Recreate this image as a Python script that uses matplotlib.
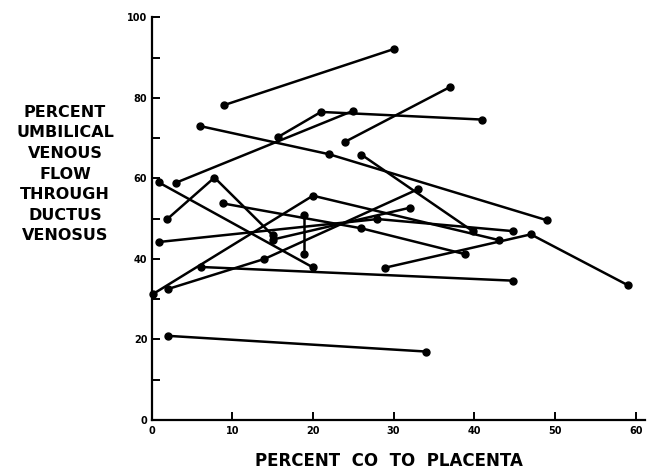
import numpy as np
import matplotlib
matplotlib.use('Agg')
import matplotlib.pyplot as plt

#percent of cardiac output to placenta, one list per fetus
co_placenta = [
  [9, 30],
  [6, 22, 49],
  [3, 25],
  [15.7, 21, 41],
  [24, 37],
  [26, 39.8],
  [0.9, 20],
  [1.9, 7.8, 15],
  [8.8, 26, 38.8],
  [0.2, 20, 43],
  [2, 14, 33],
  [0.9, 28, 44.8],
  [6.1, 44.8],
  [2, 34],
  [18.9, 18.9],
  [28.9, 47, 59],
  [15, 32],
]

#percent umbilical venous flow through ductus venosus
dv_flow = [
  [78.2, 92.1],
  [73, 66, 49.6],
  [58.9, 76.8],
  [70.3, 76.5, 74.6],
  [69.1, 82.7],
  [65.9, 46.9],
  [59, 37.9],
  [49.8, 60.2, 45.9],
  [53.8, 47.6, 41.2],
  [31.3, 55.7, 44.7],
  [32.5, 40, 57.3],
  [44.2, 49.9, 46.9],
  [38, 34.6],
  [20.9, 17],
  [50.8, 41.1],
  [37.8, 46.1, 33.5],
  [44.8, 52.7],
]

x_ticks = [10, 20, 30, 40, 50, 60]
y_ticks = [0, 10, 20, 30, 40, 50, 60, 70, 80, 90, 100]
y_labels = ['0', '', '20', '', '40', '', '60', '', '80', '', '100']

fig = plt.figure(figsize=(6.48, 4.69), dpi=100)
ax = fig.add_axes([0.2338, 0.1045, 0.7622, 0.8586])

for xs, ys in zip(co_placenta, dv_flow):
  ax.plot(xs, ys, color='black', lw=1.8, marker='o', ms=5, clip_on=False)

ax.set_xlim(0, 61.2)
ax.set_ylim(0, 100)
ax.spines['top'].set_visible(False)
ax.spines['right'].set_visible(False)
ax.spines['left'].set_linewidth(1.6)
ax.spines['bottom'].set_linewidth(1.6)

ax.set_xticks(x_ticks)
ax.set_xticklabels([])
ax.set_yticks(y_ticks)
ax.set_yticklabels(y_labels, fontsize=7, fontweight='bold')
ax.tick_params(axis='x', direction='in', length=6, width=1.4)
ax.tick_params(axis='y', direction='in', length=6, width=1.4, pad=3)

#x tick labels sit under the ticks, 0 included
for v in [0] + x_ticks:
  ax.annotate(str(v), (v, 0), xycoords='data', textcoords='offset points',
              xytext=(0, -4), ha='center', va='top', fontsize=7, fontweight='bold')

fig.text(389/648, 1 - 461/469, 'PERCENT  CO  TO  PLACENTA', ha='center', va='center',
         fontsize=12, fontweight='bold')
fig.text(65/648, 1 - 174/469,
         'PERCENT\nUMBILICAL\nVENOUS\nFLOW\nTHROUGH\nDUCTUS\nVENOSUS',
         ha='center', va='center', multialignment='center', fontsize=11.5,
         fontweight='bold', linespacing=1.46)

fig.savefig('out.png', dpi=100)
